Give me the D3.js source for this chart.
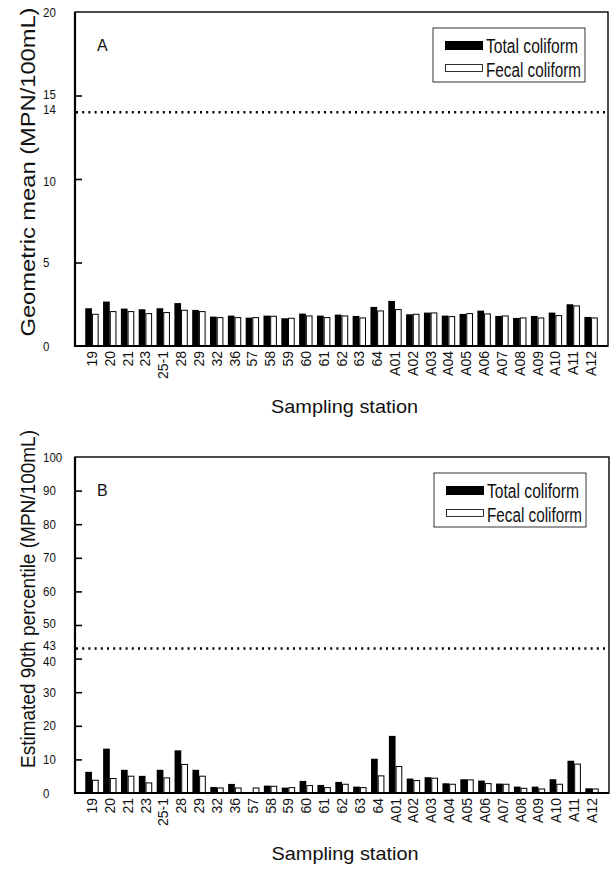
<!DOCTYPE html>
<html>
<head>
<meta charset="utf-8">
<script src="https://cdn.jsdelivr.net/npm/d3@7"></script>
<style>
    body { margin: 0; background: #fff; }
    text { fill: #111; }
</style>
</head>
<body>
<div id="chart"></div>
<script>
const WIDTH  = 613
const HEIGHT = 870

const SANS = '"Liberation Sans", Arial, Helvetica, sans-serif'

// sampling stations
const stations = ['19', '20', '21', '23', '25-1', '28', '29', '32', '36', '57', '58', '59', '60', '61',
    '62', '63', '64', 'A01', 'A02', 'A03', 'A04', 'A05', 'A06', 'A07', 'A08', 'A09', 'A10', 'A11', 'A12']

// A: geometric mean (MPN/100mL)
const gmTotal = [2.26, 2.66, 2.24, 2.2, 2.26, 2.57, 2.16, 1.76, 1.82, 1.7, 1.82, 1.66, 1.94, 1.82,
    1.88, 1.8, 2.34, 2.7, 1.9, 2.0, 1.82, 1.92, 2.12, 1.8, 1.68, 1.8, 2.0, 2.5, 1.74]
const gmFecal = [1.9, 2.06, 2.06, 1.94, 2.0, 2.14, 2.06, 1.7, 1.7, 1.7, 1.78, 1.66, 1.8, 1.7,
    1.8, 1.68, 2.1, 2.18, 1.9, 1.98, 1.76, 1.94, 1.92, 1.8, 1.68, 1.68, 1.82, 2.4, 1.68]

// B: estimated 90th percentile (MPN/100mL)
const p90Total = [6.3, 13.2, 6.9, 5.1, 6.9, 12.7, 6.9, 1.8, 2.7, 0, 2.2, 1.6, 3.6, 2.4,
    3.3, 1.9, 10.2, 17.0, 4.3, 4.7, 2.9, 4.1, 3.7, 2.8, 1.9, 1.9, 4.1, 9.6, 1.4]
const p90Fecal = [3.8, 4.3, 5.0, 3.0, 4.5, 8.5, 5.0, 1.5, 1.5, 1.5, 2.0, 1.6, 2.2, 1.6,
    2.6, 1.6, 5.1, 7.9, 3.7, 4.4, 2.6, 3.9, 2.8, 2.6, 1.4, 1.2, 2.6, 8.6, 1.2]

const gmTickLabels  = [0, 5, 10, 14, 15, 20]
const gmTickMarks   = [5, 10, 15]
const p90TickLabels = [0, 10, 20, 30, 40, 43, 50, 60, 70, 80, 90, 100]
const p90TickMarks  = [10, 20, 30, 40, 50, 60, 70, 80, 90]

const seriesNames = ['Total coliform', 'Fecal coliform']

const svg = d3.select('#chart').append('svg')
    .attr('width', WIDTH)
    .attr('height', HEIGHT)

svg.append('rect')
    .attr('width', WIDTH)
    .attr('height', HEIGHT)
    .attr('fill', '#fff')

const drawPanel = cfg => {
    const { left, right, top, bottom } = cfg

    const x = d3.scalePoint()
        .domain(stations)
        .range([left, right])
        .padding(0.95)

    const y = d3.scaleLinear()
        .domain([0, cfg.max])
        .range([bottom, top])

    const barW = 6.7
    const g = svg.append('g')

    // bars
    g.selectAll('.total')
        .data(stations)
        .join('rect')
        .attr('x', d => x(d) - barW)
        .attr('y', (d, i) => y(cfg.total[i]))
        .attr('width', barW)
        .attr('height', (d, i) => y(0) - y(cfg.total[i]))
        .attr('fill', '#000')

    g.selectAll('.fecal')
        .data(stations)
        .join('rect')
        .attr('x', d => x(d) + 0.5)
        .attr('y', (d, i) => y(cfg.fecal[i]))
        .attr('width', barW - 1)
        .attr('height', (d, i) => y(0) - y(cfg.fecal[i]))
        .attr('fill', '#fff')
        .attr('stroke', '#000')
        .attr('stroke-width', 1)

    // limit line
    g.append('line')
        .attr('x1', left + 1)
        .attr('x2', right)
        .attr('y1', y(cfg.limit))
        .attr('y2', y(cfg.limit))
        .attr('stroke', '#000')
        .attr('stroke-width', 2.4)
        .attr('stroke-dasharray', '2,4.2')

    // frame
    g.append('rect')
        .attr('x', left)
        .attr('y', top)
        .attr('width', right - left)
        .attr('height', bottom - top)
        .attr('fill', 'none')
        .attr('stroke', '#000')
        .attr('stroke-width', 1.4)
    g.append('path')
        .attr('d', `M${left},${top}V${bottom}H${right}`)
        .attr('fill', 'none')
        .attr('stroke', '#000')
        .attr('stroke-width', 2.2)

    // y axis, inward ticks
    const yAxis = d3.axisLeft(y)
        .tickValues(cfg.tickMarks)
        .tickSize(-7)
        .tickFormat('')
    const ya = g.append('g')
        .attr('transform', `translate(${left},0)`)
        .call(yAxis)
    ya.select('.domain').remove()
    ya.selectAll('.tick line').attr('stroke', '#000').attr('stroke-width', 1.6)

    // labels next to the limit are pushed apart a little, as in the original
    const below = d3.max(cfg.tickLabels.filter(v => v < cfg.limit))
    const above = d3.min(cfg.tickLabels.filter(v => v > cfg.limit))
    const nudge = d => d === cfg.limit ? -3 : d === below ? 2.5 : d === above ? -1.5 : 0

    g.selectAll('.ylab')
        .data(cfg.tickLabels)
        .join('text')
        .attr('x', 43)
        .attr('y', d => y(d) + nudge(d))
        .attr('dy', '0.36em')
        .attr('font-family', SANS)
        .attr('font-size', 13)
        .attr('textLength', d => String(d).length * 6.4)
        .attr('lengthAdjust', 'spacingAndGlyphs')
        .text(d => d)

    // x tick labels
    g.selectAll('.xlab')
        .data(stations)
        .join('text')
        .attr('transform', d => `translate(${x(d) + 5},${bottom + 5}) rotate(-90)`)
        .attr('text-anchor', 'end')
        .attr('font-family', SANS)
        .attr('font-size', 14)
        .text(d => d)

    // axis titles
    g.append('text')
        .attr('x', (left + right) / 2 + 3)
        .attr('y', bottom + 67)
        .attr('text-anchor', 'middle')
        .attr('font-family', SANS)
        .attr('font-size', 19)
        .attr('textLength', 147)
        .attr('lengthAdjust', 'spacingAndGlyphs')
        .text('Sampling station')

    g.append('text')
        .attr('transform', `translate(35,${cfg.titleY}) rotate(-90)`)
        .attr('text-anchor', 'middle')
        .attr('font-family', SANS)
        .attr('font-size', cfg.titleSize)
        .attr('textLength', cfg.titleLen)
        .attr('lengthAdjust', 'spacingAndGlyphs')
        .text(cfg.title)

    // panel letter
    g.append('text')
        .attr('x', left + 22)
        .attr('y', top + 39)
        .attr('font-family', SANS)
        .attr('font-size', 16)
        .text(cfg.letter)

    // legend
    const lx = right - 175
    const ly = top + 16
    const leg = g.append('g')
    leg.append('rect')
        .attr('x', lx)
        .attr('y', ly)
        .attr('width', 152)
        .attr('height', 54)
        .attr('fill', '#fff')
        .attr('stroke', '#000')
        .attr('stroke-width', 0.8)
    leg.append('rect')
        .attr('x', lx + 12)
        .attr('y', ly + 13)
        .attr('width', 38)
        .attr('height', 9)
        .attr('fill', '#000')
    leg.append('rect')
        .attr('x', lx + 12.5)
        .attr('y', ly + 36.5)
        .attr('width', 37)
        .attr('height', 7)
        .attr('fill', '#fff')
        .attr('stroke', '#000')
        .attr('stroke-width', 0.8)
    leg.selectAll('.legtext')
        .data(seriesNames)
        .join('text')
        .attr('x', lx + 53)
        .attr('y', (d, i) => ly + 25 + i * 24)
        .attr('font-family', SANS)
        .attr('font-size', 20)
        .attr('textLength', (d, i) => i ? 95 : 92)
        .attr('lengthAdjust', 'spacingAndGlyphs')
        .text(d => d)
}

drawPanel({
    left: 75, right: 608, top: 12, bottom: 346,
    max: 20, total: gmTotal, fecal: gmFecal, limit: 14,
    tickLabels: gmTickLabels, tickMarks: gmTickMarks,
    title: 'Geometric mean (MPN/100mL)', titleY: 172, titleSize: 21, titleLen: 329,
    letter: 'A'
})

drawPanel({
    left: 75, right: 609, top: 457, bottom: 793,
    max: 100, total: p90Total, fecal: p90Fecal, limit: 43,
    tickLabels: p90TickLabels, tickMarks: p90TickMarks,
    title: 'Estimated 90th percentile (MPN/100mL)', titleY: 599, titleSize: 20, titleLen: 338,
    letter: 'B'
})
</script>
</body>
</html>
